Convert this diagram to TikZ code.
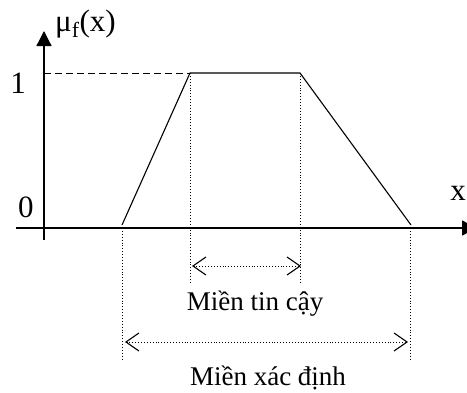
\documentclass[tikz,border=0pt]{standalone}
\usepackage{fontspec}
\setmainfont{Liberation Serif}
\usetikzlibrary{arrows.meta}
\begin{document}
\begin{tikzpicture}[x=1pt, y=-1pt, every node/.style={font=\fontsize{27}{32}\selectfont, inner sep=0pt},
    axislabel/.style={font=\fontsize{31}{36}\selectfont},
    axis/.style={line width=1.3pt, -{Triangle[length=15pt,width=15pt]}},
    guide/.style={dotted, line width=0.9pt},
    span/.style={dotted, line width=0.9pt, {Straight Barb[length=13pt,width=18pt,line width=1.1pt]}-{Straight Barb[length=13pt,width=18pt,line width=1.1pt]}}]
    \useasboundingbox (0,0) rectangle (467,392);
    % axes
    \coordinate (ybot) at (44,240);
    \coordinate (ytop) at (44,31);
    \coordinate (xleft) at (16,228);
    \coordinate (xright) at (477,228);
    \draw[axis] (ybot)--(ytop);
    \draw[axis] (xleft)--(xright);
    \node[axislabel, anchor=base west] (mu) at (55,31) {μ\textsubscript{f}(x)};
    \node[axislabel, anchor=base] (one) at (18,93) {1};
    \node[axislabel, anchor=base] (zero) at (26,217) {0};
    \node[axislabel, anchor=base east] (xlab) at (466,200) {x};
    % trapezoid
    \coordinate (a) at (122,225);
    \coordinate (b) at (190,73);
    \coordinate (c) at (300,73);
    \coordinate (d) at (411,225);
    \coordinate (yone) at (44,73);
    \draw[line width=1.1pt] (a)--(b)--(c)--(d);
    \draw[line width=1pt, dash pattern=on 7pt off 4pt] (yone)--(b);
    % guides
    \coordinate (bdown) at (190,282);
    \coordinate (cdown) at (300,282);
    \coordinate (atop) at (122,228);
    \coordinate (adown) at (122,360);
    \coordinate (dtop) at (410,228);
    \coordinate (ddown) at (410,360);
    \draw[guide] (b)--(bdown);
    \draw[guide] (c)--(cdown);
    \draw[guide] (atop)--(adown);
    \draw[guide] (dtop)--(ddown);
    % spans
    \coordinate (tinl) at (192,266);
    \coordinate (tinr) at (301,266);
    \coordinate (xdl) at (125,342);
    \coordinate (xdr) at (408,342);
    \draw[span] (tinl)--(tinr);
    \draw[span] (xdl)--(xdr);
    \node[anchor=base] (tin) at (255,310) {Miền tin cậy};
    \node[anchor=base] (xacdinh) at (268,385) {Miền xác định};
\end{tikzpicture}
\end{document}
